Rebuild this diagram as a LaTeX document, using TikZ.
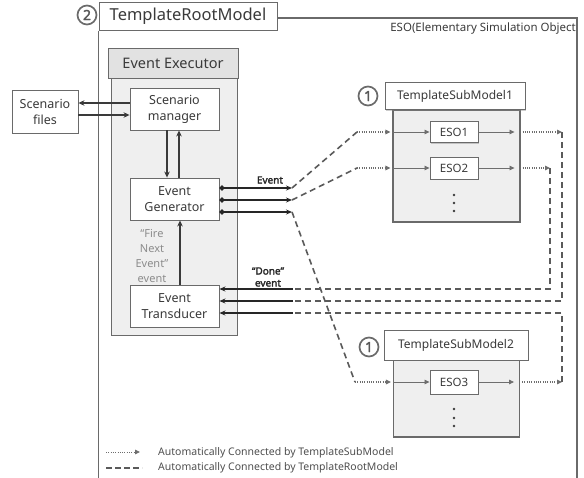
\documentclass[tikz,border=0pt]{standalone}
\usepackage{fontspec}
\setmainfont{Noto Sans}
\newfontfamily\bfake{Noto Sans}[FakeBold=2.2]
\usetikzlibrary{arrows.meta,shadows,calc}
\definecolor{ink}{HTML}{3A3A3A}
\definecolor{frameg}{HTML}{6A6A6A}
\definecolor{fillg}{HTML}{EFEFEF}
\definecolor{headg}{HTML}{E2E2E2}
\definecolor{dashg}{HTML}{5A5A5A}
\definecolor{dotg}{HTML}{6E6E6E}
\definecolor{fireg}{HTML}{8C8C8C}
\begin{document}
\begin{tikzpicture}[x=1pt,y=-1pt,
  every node/.style={text=ink, inner sep=0pt},
  shd/.style={drop shadow={shadow xshift=1.3pt, shadow yshift=-1.3pt, opacity=0.4}},
  box/.style={draw=frameg, line width=0.9pt, fill=white, align=center, shd,
    font=\fontsize{12.5}{16}\selectfont},
  titlebox/.style={draw=frameg, line width=1pt, fill=white, shd},
  graybody/.style={draw=frameg, line width=0.9pt, fill=fillg},
  numc/.style={circle, draw=frameg, line width=1.7pt, minimum size=19pt, text=ink!85,
    font=\bfake\fontsize{14}{14}\selectfont},
  frame/.style={draw=frameg, line width=1.6pt},
  thickarr/.style={draw=ink, line width=1.8pt, -{Stealth[length=6pt,width=5.5pt]}},
  evline/.style={draw=black!85, line width=1.5pt},
  rootdash/.style={draw=dashg, line width=1.6pt, dash pattern=on 6pt off 4pt},
  subdot/.style={draw=dotg, line width=1.1pt, dash pattern=on 1pt off 1.3pt,
    -{Triangle[length=5pt,width=4.5pt]}},
  inarr/.style={draw=dotg, line width=0.8pt, -{Triangle[length=5pt,width=4.5pt]}},
  lbl/.style={font=\bfake\fontsize{10}{12}\selectfont, align=center, text=black!85},
  legtext/.style={anchor=west, font=\fontsize{10.5}{11}\selectfont, text=ink!90}
]
\useasboundingbox (0,0) rectangle (584,477);

% ---------- root model frame ----------
\node[titlebox, minimum width=178pt, minimum height=28pt,
  font=\fontsize{16.5}{16}\selectfont] (root) at (188,16) {TemplateRootModel};
\node[numc] (n2) at (87,15) {2};
\coordinate (frameNE) at (577,18);
\draw[frame] (root.south west) -- ++(0,450);
\draw[frame] (root.east |- frameNE) -- (frameNE) -- ++(0,462);
\node[anchor=north east, font=\fontsize{11.5}{12}\selectfont] (esolbl) at (576,23)
  {ESO(Elementary Simulation Object};

% ---------- event executor ----------
\node[graybody, minimum width=126pt, minimum height=257pt] (exb) at (174,206.5) {};
\node[draw=frameg, line width=1pt, fill=headg, shd, minimum width=130pt, minimum height=30pt,
  font=\fontsize{14.5}{15}\selectfont] (exh) at (173,63) {Event Executor};
\node[box, minimum width=89pt, minimum height=42pt] (sm) at (174.5,109) {Scenario\\manager};
\node[box, minimum width=89pt, minimum height=42pt] (gen) at (174.5,199) {Event\\Generator};
\node[box, minimum width=89pt, minimum height=42pt] (tr) at (174.5,306) {Event\\Transducer};
\node[box, minimum width=66pt, minimum height=43pt] (sf) at (45,111.5) {Scenario\\files};

\draw[thickarr] ([yshift=6pt]sm.west) -- ([yshift=6pt]sm.west -| sf.east);
\draw[thickarr] ([yshift=-6pt]sm.west -| sf.east) -- ([yshift=-6pt]sm.west);
\draw[thickarr] ([xshift=-7.5pt]sm.south) -- ([xshift=-7.5pt]sm.south |- gen.north);
\draw[thickarr] ([xshift=4.5pt]gen.north) -- ([xshift=4.5pt]gen.north |- sm.south);
\draw[thickarr] ([xshift=5.5pt]tr.north) -- ([xshift=5.5pt]tr.north |- gen.south);

\node[font=\fontsize{11}{15}\selectfont, text=fireg, align=center] (fire) at (152,256)
  {“Fire\\Next\\Event”\\event};

% ---------- generator outputs / transducer inputs ----------
\coordinate (e1) at (292,188);
\coordinate (e2) at (292,200);
\coordinate (e3) at (292,212);
\coordinate (d1) at (293,289);
\coordinate (d2) at (293,301);
\coordinate (d3) at (293,313);
\foreach \e in {e1,e2,e3}{
  \draw[evline, {Circle[length=5pt]}-{Stealth[length=6pt,width=5pt]}] (gen.east |- \e) -- (\e);
}
\foreach \d in {d1,d2,d3}{
  \draw[evline, {Stealth[length=6pt,width=5pt]}-] (tr.east |- \d) -- (\d);
}
\node[lbl] (evlbl) at (270,180) {Event};
\node[lbl] (donelbl) at (268,277) {“Done”\\event};

% ---------- sub model 1 ----------
\node[graybody, line width=1.1pt, minimum width=127pt, minimum height=112pt] (sb1) at (456.5,166) {};
\node[box, minimum width=140pt, minimum height=27pt, font=\fontsize{12}{12}\selectfont] (sh1) at (455,96) {TemplateSubModel1};
\node[numc] (n1a) at (368,96) {1};
\node[box, minimum width=48pt, minimum height=21pt, font=\fontsize{11.5}{12}\selectfont] (eso1) at (454,132) {ESO1};
\node[box, minimum width=48pt, minimum height=22pt, font=\fontsize{11.5}{12}\selectfont] (eso2) at (454,168) {ESO2};
\foreach \yy in {195,203,211}{ \fill[ink] (454,\yy) circle (1.3pt); }

% ---------- sub model 2 ----------
\node[graybody, line width=1.1pt, minimum width=126pt, minimum height=77pt] (sb2) at (456.5,398.5) {};
\node[box, minimum width=144pt, minimum height=30pt, font=\fontsize{12}{12}\selectfont] (sh2) at (456,345) {TemplateSubModel2};
\node[numc] (n1b) at (369,347) {1};
\node[box, minimum width=48pt, minimum height=24pt, font=\fontsize{11.5}{12}\selectfont] (eso3) at (454,382) {ESO3};
\foreach \yy in {409,418,426}{ \fill[ink] (454,\yy) circle (1.3pt); }

% ---------- internal arrows ----------
\foreach \b/\o in {sb1/eso1, sb1/eso2, sb2/eso3}{
  \draw[inarr] (\b.west |- \o) -- (\o.west);
  \draw[inarr] (\o.east) -- ([xshift=-6pt]\b.east |- \o);
}

% ---------- root connections ----------
\coordinate (a1) at (357,132);
\coordinate (a2) at (357,168);
\coordinate (a3) at (355,382);
\coordinate (b1) at (562,132);
\coordinate (b2) at (550,168);
\coordinate (b3) at (562,382);
\draw[rootdash] (e1) -- (a1);
\draw[rootdash] (e2) -- (a2);
\draw[rootdash] (e3) -- (a3);
\draw[subdot] (a1) -- ([xshift=-2pt]sb1.west |- a1);
\draw[subdot] (a2) -- ([xshift=-2pt]sb1.west |- a2);
\draw[subdot] (a3) -- ([xshift=-2pt]sb2.west |- a3);
\draw[subdot] ([xshift=2pt]sb1.east |- eso1) -- (b1);
\draw[subdot] ([xshift=2pt]sb1.east |- eso2) -- (b2);
\draw[subdot] ([xshift=2pt]sb2.east |- eso3) -- (b3);
\draw[rootdash] (b1) -- (b1 |- d2) -- (d2);
\draw[rootdash] (b2) -- (b2 |- d1) -- (d1);
\draw[rootdash] (b3) -- (b3 |- d3) -- (d3);

% ---------- legend ----------
\coordinate (l1a) at (106,452);
\coordinate (l1b) at (140,452);
\coordinate (l2a) at (106,468);
\coordinate (l2b) at (142,468);
\draw[subdot, line width=0.9pt] (l1a) -- (l1b);
\draw[rootdash, line width=1.3pt, dash pattern=on 6pt off 3pt] (l2a) -- (l2b);
\node[legtext] (leg1) at (158,453) {Automatically Connected by TemplateSubModel};
\node[legtext] (leg2) at (158,468) {Automatically Connected by TemplateRootModel};
\end{tikzpicture}
\end{document}
